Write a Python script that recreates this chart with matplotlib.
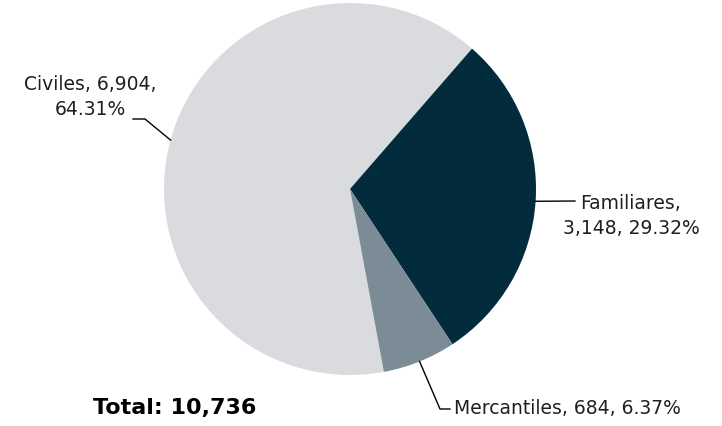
import matplotlib
matplotlib.use("Agg")
import matplotlib.pyplot as plt
import numpy as np

categories = ["Civiles", "Familiares", "Mercantiles"]
values = [6904, 3148, 684]
percents = ["64.31%", "29.32%", "6.37%"]
colors = ["#D9DBDF", "#022B3C", "#7B8C96"]
total_label = "Total: 10,736"

W, H = 722, 427
CX, CY, R = 350, 190, 186

def px(x, y):
    return ((x - CX) / R, (CY - y) / R)

fig = plt.figure(figsize=(W / 100, H / 100), dpi=100)
ax = fig.add_axes([0, 0, 1, 1])

wedges, _ = ax.pie(values, colors=colors, startangle=280.5, counterclock=False,
                   radius=1, center=(0, 0), frame=True,
                   wedgeprops=dict(linewidth=0))
ax.set_xlim(-CX / R, (W - CX) / R)
ax.set_ylim(-(H - CY) / R, CY / R)
ax.set_aspect("auto")
ax.axis("off")

def edge(w):
    a = np.deg2rad((w.theta1 + w.theta2) / 2)
    return (np.cos(a), np.sin(a))

fs = 13.5
tc = "#1F1F1F"
lw = 1.0
# Civiles
e = edge(wedges[0])
p1 = px(145, 120); p2 = px(133, 120)
ax.plot([e[0], p1[0], p2[0]], [e[1], p1[1], p2[1]], color="black", lw=lw)
tx, ty = px(90, 97)
ax.text(tx, ty, f"{categories[0]}, {values[0]:,},\n{percents[0]}", ha="center", va="center",
        fontsize=fs, color=tc, linespacing=1.4)
# Familiares
e = edge(wedges[1])
p1 = px(575, 202)
ax.plot([e[0], p1[0]], [e[1], p1[1]], color="black", lw=lw)
tx, ty = px(631, 216)
ax.text(tx, ty, f"{categories[1]},\n{values[1]:,}, {percents[1]}", ha="center", va="center",
        fontsize=fs, color=tc, linespacing=1.4)
# Mercantiles
e = edge(wedges[2])
p1 = px(440, 410); p2 = px(450, 410)
ax.plot([e[0], p1[0], p2[0]], [e[1], p1[1], p2[1]], color="black", lw=lw)
tx, ty = px(454, 408)
ax.text(tx, ty, f"{categories[2]}, {values[2]:,}, {percents[2]}", ha="left", va="center",
        fontsize=fs, color=tc)

tx, ty = px(175, 408)
ax.text(tx, ty, total_label, ha="center", va="center", fontsize=16, fontweight="bold", color="black")

fig.savefig("out.png", dpi=100)
